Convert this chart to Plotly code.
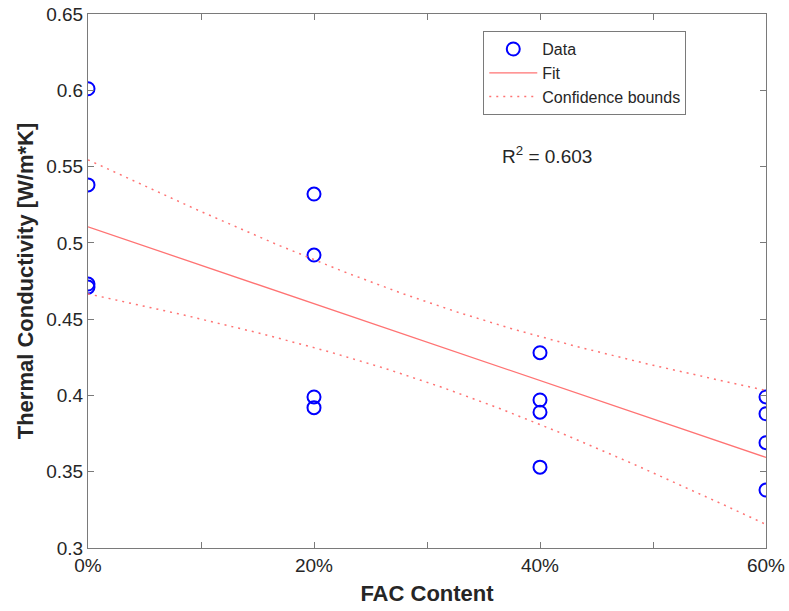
import numpy as np
import plotly.graph_objects as go

# Data
fac_content = [0.0, 0.0, 0.0, 0.0,
               0.2, 0.2, 0.2, 0.2,
               0.4, 0.4, 0.4, 0.4,
               0.6, 0.6, 0.6, 0.6]
conductivity = [0.601, 0.538, 0.473, 0.471,
                0.532, 0.492, 0.399, 0.392,
                0.428, 0.397, 0.389, 0.353,
                0.399, 0.388, 0.369, 0.338]
x_tick_vals = [0.0, 0.2, 0.4, 0.6]
x_tick_text = ["0%", "20%", "40%", "60%"]
x_minor_tick_vals = [0.1, 0.3, 0.5]
y_tick_vals = [0.3, 0.35, 0.4, 0.45, 0.5, 0.55, 0.6, 0.65]
y_tick_text = ["0.3", "0.35", "0.4", "0.45", "0.5", "0.55", "0.6", "0.65"]
r2_label = "R<sup>2</sup> = 0.603"
t_crit = 2.1448  # 95% two-sided, 14 dof

# Linear fit and confidence bounds for the fitted function
x = np.array(fac_content)
y = np.array(conductivity)
n = len(x)
slope, intercept = np.polyfit(x, y, 1)
resid = y - (slope * x + intercept)
s = np.sqrt(np.sum(resid ** 2) / (n - 2))
sxx = np.sum((x - x.mean()) ** 2)
xf = np.linspace(0, 0.6, 121)
yf = slope * xf + intercept
half = t_crit * s * np.sqrt(1.0 / n + (xf - x.mean()) ** 2 / sxx)

FONT = "Liberation Sans, Arial, Helvetica, sans-serif"
fit_color = "rgb(255,115,115)"
dot_style = "2px,5px"
axis_color = "#7a7a7a"

fig = go.Figure()
fig.add_trace(go.Scatter(x=x, y=y, mode="markers", name="Data",
                         marker=dict(symbol="circle-open", size=13, color="#0000ff",
                                     line=dict(width=2, color="#0000ff"))))
fig.add_trace(go.Scatter(x=xf, y=yf, mode="lines", name="Fit",
                         line=dict(color=fit_color, width=1.3)))
fig.add_trace(go.Scatter(x=xf, y=yf + half, mode="lines", name="Confidence bounds",
                         line=dict(color=fit_color, width=1.5, dash=dot_style),
                         legendgroup="cb"))
fig.add_trace(go.Scatter(x=xf, y=yf - half, mode="lines", name="Confidence bounds",
                         line=dict(color=fit_color, width=1.5, dash=dot_style),
                         legendgroup="cb", showlegend=False))

axis_common = dict(showgrid=False, zeroline=False, showline=True, linecolor=axis_color,
                   linewidth=1, mirror="ticks", ticks="inside", ticklen=6, automargin=False,
                   tickcolor=axis_color, tickfont=dict(family=FONT, size=19, color="#262626"))

fig.update_xaxes(range=[0, 0.6], tickvals=x_tick_vals, ticktext=x_tick_text,
                 minor=dict(tickvals=x_minor_tick_vals, ticks="inside", ticklen=6,
                            tickcolor=axis_color, showgrid=False),
                 title=dict(text="<b>FAC Content</b>", font=dict(family=FONT, size=22, color="#262626"),
                            standoff=10),
                 **axis_common)
fig.update_yaxes(range=[0.3, 0.65], tickvals=y_tick_vals, ticktext=y_tick_text,
                 title=dict(text="<b>Thermal Conductivity [W/m*K]</b>",
                            font=dict(family=FONT, size=22, color="#262626"), standoff=6),
                 **axis_common)

fig.add_annotation(x=0.365, y=0.5575, xref="x", yref="y", text=r2_label, showarrow=False,
                   xanchor="left", yanchor="middle",
                   font=dict(family=FONT, size=19, color="#262626"))

fig.update_layout(
    template="none",
    width=789, height=611,
    margin=dict(l=88, r=23, t=14, b=63, pad=0),
    paper_bgcolor="white", plot_bgcolor="white",
    font=dict(family=FONT, size=18, color="#262626"),
    legend=dict(x=0.583, y=0.968, xanchor="left", yanchor="top",
                bordercolor=axis_color, borderwidth=1, bgcolor="white",
                font=dict(family=FONT, size=16, color="#262626"),
                tracegroupgap=0, itemwidth=48),
    showlegend=True,
)

fig.write_html("out.html")
